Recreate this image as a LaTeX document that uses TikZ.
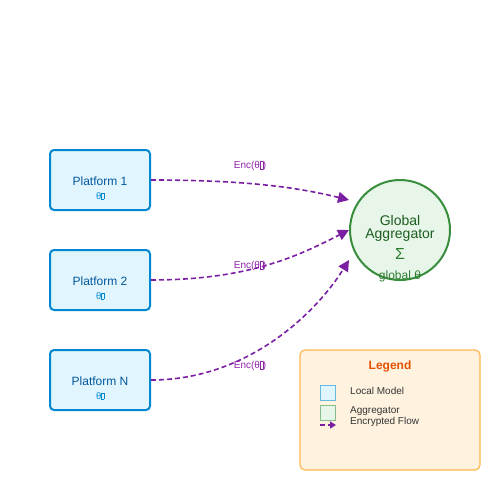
\documentclass[tikz,border=0pt]{standalone}
\usepackage{fontspec}
\setmainfont{Liberation Sans}
\usetikzlibrary{arrows.meta}
\definecolor{platfill}{HTML}{E1F5FE}
\definecolor{platdraw}{HTML}{0288D1}
\definecolor{plattxt}{HTML}{01579B}
\definecolor{aggfill}{HTML}{E8F5E9}
\definecolor{aggdraw}{HTML}{388E3C}
\definecolor{aggtxt}{HTML}{1B5E20}
\definecolor{aggsub}{HTML}{2E7D32}
\definecolor{flowcol}{HTML}{7B1FA2}
\definecolor{enctxt}{HTML}{8E24AA}
\definecolor{legfill}{HTML}{FFF3E0}
\definecolor{legdraw}{HTML}{FFB74D}
\definecolor{legtitle}{HTML}{E65100}
\newcommand\tofu{{\setlength\fboxsep{0pt}\setlength\fboxrule{0.3pt}\fbox{\rule{0pt}{0.68em}\hspace{0.22em}}}}
\newcommand\fsz[1]{\fontsize{#1}{#1}\selectfont}

\begin{document}
\begin{tikzpicture}[x=1pt,y=-1pt,
		platform/.style={draw=platdraw, fill=platfill, line width=2pt, rounded corners=4pt, minimum width=100pt, minimum height=60pt},
		plattext/.style={text=plattxt, font=\fsz{12}, inner sep=0pt},
		platsub/.style={text=platdraw, font=\fsz{9.5}, inner sep=0pt},
		aggregator/.style={circle, draw=aggdraw, fill=aggfill, line width=2pt, minimum size=100pt, inner sep=0pt},
		flow/.style={draw=flowcol, line width=1.6pt, dash pattern=on 5pt off 3pt, -{Triangle[length=11pt,width=11pt]}},
		enclabel/.style={text=enctxt, font=\fsz{10}, inner sep=0pt},
		legtext/.style={text=black!80, font=\fsz{10}, inner sep=0pt, anchor=west}]
		\useasboundingbox (0,0) rectangle (500,500);
		\foreach \i/\lab in {1/1,2/2,3/N} {
			\node[platform] (p\i) at (100,80+100*\i) {};
			\node[plattext] (p\i name) at (100,81+100*\i) {Platform \lab};
			\node[platsub] (p\i sub) at (100,96+100*\i) {θ\tofu};
		}
		\node[aggregator] (agg) at (400,230) {};
		\node[text=aggtxt, font=\fsz{14}, inner sep=0pt] (aggname1) at (400,220) {Global};
		\node[text=aggtxt, font=\fsz{14}, inner sep=0pt] (aggname2) at (400,235) {Aggregator};
		\node[text=aggsub, font=\fsz{16}, inner sep=0pt] (aggsum) at (400,254) {Σ};
		\node[text=aggsub, font=\fsz{12}, inner sep=0pt] (aggglob) at (400,276) {global θ};
		\coordinate (t1) at ([yshift=30pt]agg.west);
		\coordinate (t2) at (agg.west);
		\coordinate (t3) at ([yshift=-30pt]agg.west);
		\draw[flow] (p1.east) .. controls (250,180) and (300,188) .. (t1);
		\draw[flow] (p2.east) .. controls (250,280) and (300,255) .. (t2);
		\draw[flow] (p3.east) .. controls (250,380) and (318,310) .. (t3);
		\foreach \i in {1,2,3} {
			\node[enclabel] (e\i) at (250,66+100*\i) {Enc(θ\tofu)};
		}
		\node[draw=legdraw, fill=legfill, line width=1.2pt, rounded corners=5pt, minimum width=180pt, minimum height=120pt] (legend) at (390,410) {};
		\node[text=legtitle, font=\fsz{12}\bfseries, inner sep=0pt] (legtitle) at (390,366) {Legend};
		\node[draw=platdraw!60, fill=platfill, line width=1pt, minimum size=15pt, inner sep=0pt] (keyplat) at (327.5,392.5) {};
		\node[draw=aggdraw!60, fill=aggfill, line width=1pt, minimum size=15pt, inner sep=0pt] (keyagg) at (327.5,412.5) {};
		\coordinate (keya) at (320,425);
		\coordinate (keyb) at (336,425);
		\draw[draw=flowcol, line width=1.6pt, dash pattern=on 5pt off 3pt, -{Triangle[length=6pt,width=7pt]}] (keya) -- (keyb);
		\node[legtext] (keyplattxt) at (350,391) {Local Model};
		\node[legtext] (keyaggtxt) at (350,411) {Aggregator};
		\node[legtext] (keyflowtxt) at (350,421.5) {Encrypted Flow};
	\end{tikzpicture}
\end{document}
